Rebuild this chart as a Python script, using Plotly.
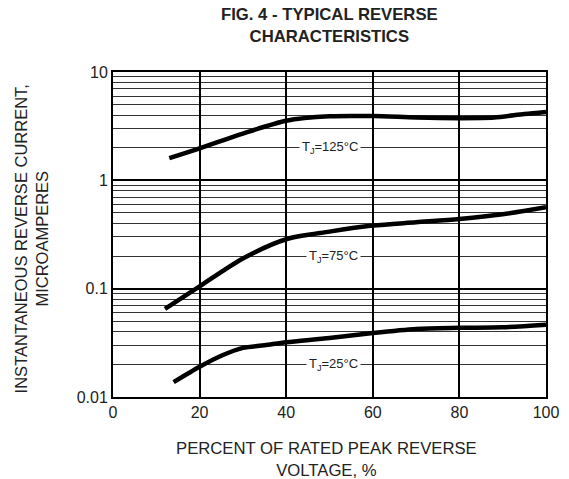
import math
import plotly.graph_objects as go

# Data
x_125 = [13, 20, 30, 40, 50, 60, 70, 80, 88, 95, 100]
y_125 = [1.6, 1.97, 2.7, 3.55, 3.9, 3.92, 3.8, 3.75, 3.8, 4.1, 4.28]

x_75 = [12, 20, 30, 40, 50, 60, 70, 80, 90, 100]
y_75 = [0.065, 0.105, 0.19, 0.286, 0.336, 0.382, 0.41, 0.44, 0.486, 0.564]

x_25 = [14, 20, 25, 30, 35, 40, 50, 60, 70, 80, 90, 100]
y_25 = [0.0137, 0.019, 0.024, 0.0284, 0.030, 0.032, 0.035, 0.039, 0.0425, 0.0435, 0.044, 0.0465]

x_ticks = [0, 20, 40, 60, 80, 100]
y_ticks = [0.01, 0.1, 1, 10]
y_tick_text = ["0.01", "0.1", "1", "10"]
y_minor = [m * d for d in (0.01, 0.1, 1) for m in range(2, 10)]

labels = ["T<sub>J</sub>=125°C", "T<sub>J</sub>=75°C", "T<sub>J</sub>=25°C"]
label_x = [50, 51, 51]
label_y = [2, 0.2, 0.02]

FONT = "Liberation Sans, Arial, sans-serif"

fig = go.Figure()
for xs, ys in ((x_125, y_125), (x_75, y_75), (x_25, y_25)):
    fig.add_trace(go.Scatter(x=xs, y=ys, mode="lines",
                             line=dict(color="black", width=4.5, shape="spline", smoothing=0.8),
                             showlegend=False, hoverinfo="skip"))

for t, lx, ly in zip(labels, label_x, label_y):
    fig.add_annotation(x=lx, y=math.log10(ly), yref="y", xref="x", text=t, showarrow=False,
                       font=dict(family=FONT, size=13, color="#222"),
                       bgcolor="white", borderpad=2)

fig.add_annotation(text="<b>FIG. 4 - TYPICAL REVERSE<br>CHARACTERISTICS</b>",
                   xref="paper", yref="paper", x=(329 - 113) / 433, y=1 + (72 - 26) / 325,
                   xanchor="center", yanchor="middle", showarrow=False,
                   font=dict(family=FONT, size=16.7, color="#222"))
fig.add_annotation(text="INSTANTANEOUS REVERSE CURRENT,<br>MICROAMPERES",
                   xref="paper", yref="paper", x=(31 - 113) / 433, y=0.485,
                   xanchor="center", yanchor="middle", textangle=-90, showarrow=False,
                   font=dict(family=FONT, size=16.5, color="#222"))
fig.add_annotation(text="PERCENT OF RATED PEAK REVERSE<br>VOLTAGE, %",
                   xref="paper", yref="paper", x=(326 - 113) / 433, y=-(459.5 - 397) / 325,
                   xanchor="center", yanchor="middle", showarrow=False,
                   font=dict(family=FONT, size=16.7, color="#222"))

fig.update_layout(
    width=569, height=479,
    margin=dict(l=113, r=23, t=72, b=82),
    paper_bgcolor="white", plot_bgcolor="white",
    font=dict(family=FONT, color="#222"),
    xaxis=dict(range=[0, 100], tickvals=x_ticks, showgrid=True, gridcolor="black", gridwidth=2,
               showline=True, linecolor="black", linewidth=2, mirror=True, zeroline=False,
               automargin=False,
               ticks="", tickfont=dict(size=16, family=FONT, color="#222")),
    yaxis=dict(type="log", range=[-2, 1], tickvals=y_ticks, ticktext=y_tick_text,
               showgrid=True, gridcolor="black", gridwidth=2,
               showline=True, linecolor="black", linewidth=2, mirror=True, zeroline=False,
               automargin=False,
               ticks="", tickfont=dict(size=16, family=FONT, color="#222"),
               minor=dict(tickvals=y_minor, showgrid=True, gridcolor="#333", gridwidth=1.3, ticks="")),
)

fig.write_html("out.html", config={"displayModeBar": False},
               post_script="document.body.style.margin='0';document.body.style.overflow='hidden';")
